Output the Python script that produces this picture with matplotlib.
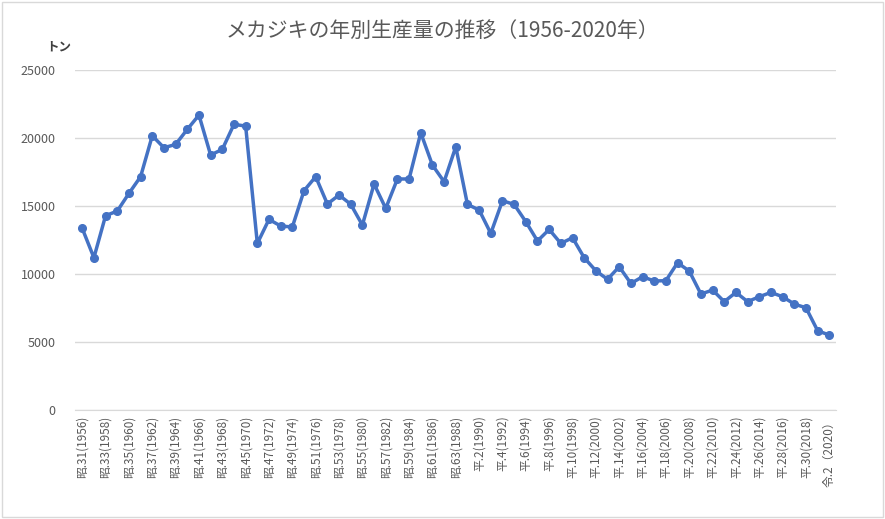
import numpy as np
import matplotlib.pyplot as plt
from matplotlib.patches import Rectangle

plt.rcParams['font.family'] = 'Noto Sans CJK JP'

# 生産量（トン）1956-2020
years = list(range(1956, 2021))
production = [
    13360, 11200, 14290, 14630, 15930, 17160, 20170, 19290, 19530, 20640,
    21690, 18750, 19170, 21010, 20880, 12250, 14020, 13530, 13460, 16130,
    17160, 15150, 15810, 15130, 13600, 16620, 14830, 16990, 16990, 20390,
    18010, 16790, 19360, 15120, 14710, 12990, 15390, 15120, 13850, 12430,
    13280, 12250, 12670, 11200, 10240, 9610, 10540, 9310, 9800, 9490,
    9510, 10830, 10220, 8530, 8820, 7970, 8650, 7970, 8330, 8650,
    8330, 7790, 7520, 5830, 5510,
]

def era_label(y):
    if y <= 1988:
        return "昭.{}({})".format(y - 1925, y)
    if y <= 2018:
        return "平.{}({})".format(y - 1988, y)
    return "令.{}（{}）".format(y - 2018, y)

tick_pos = list(range(0, len(years), 2))
tick_labels = [era_label(years[i]) for i in tick_pos]

fig = plt.figure(figsize=(8.85, 5.19), dpi=100)
ax = fig.add_axes([0.085, 0.21, 0.86, 0.655])

x = np.arange(len(years))
ax.plot(x, production, color='#4472C4', lw=2.5, marker='o', ms=5.5)

ax.set_xlim(-0.6, len(years) - 0.4)
ax.set_ylim(0, 25000)
ax.set_yticks(range(0, 25001, 5000))
ax.yaxis.grid(True, color='#D9D9D9', lw=1)
ax.set_axisbelow(True)
for s in ax.spines.values():
    s.set_visible(False)
ax.spines['bottom'].set_visible(True)
ax.spines['bottom'].set_color('#D9D9D9')
ax.tick_params(axis='y', length=0, labelsize=9, colors='#595959', pad=14)
ax.set_xticks(tick_pos)
ax.set_xticklabels(tick_labels, rotation=90, fontsize=8.5, color='#595959')
ax.tick_params(axis='x', length=0, pad=4)

fig.text(0.5, 0.94, "メカジキの年別生産量の推移（1956-2020年）",
         ha='center', va='center', fontsize=15, color='#595959')
fig.text(0.052, 0.91, "トン", ha='left', va='center', fontsize=9,
         color='#404040', fontweight='bold')

fig.patches.append(Rectangle((0.002, 0.004), 0.996, 0.992, transform=fig.transFigure,
                             fill=False, edgecolor='#D9D9D9', lw=1))

fig.savefig('out.png', dpi=100)
